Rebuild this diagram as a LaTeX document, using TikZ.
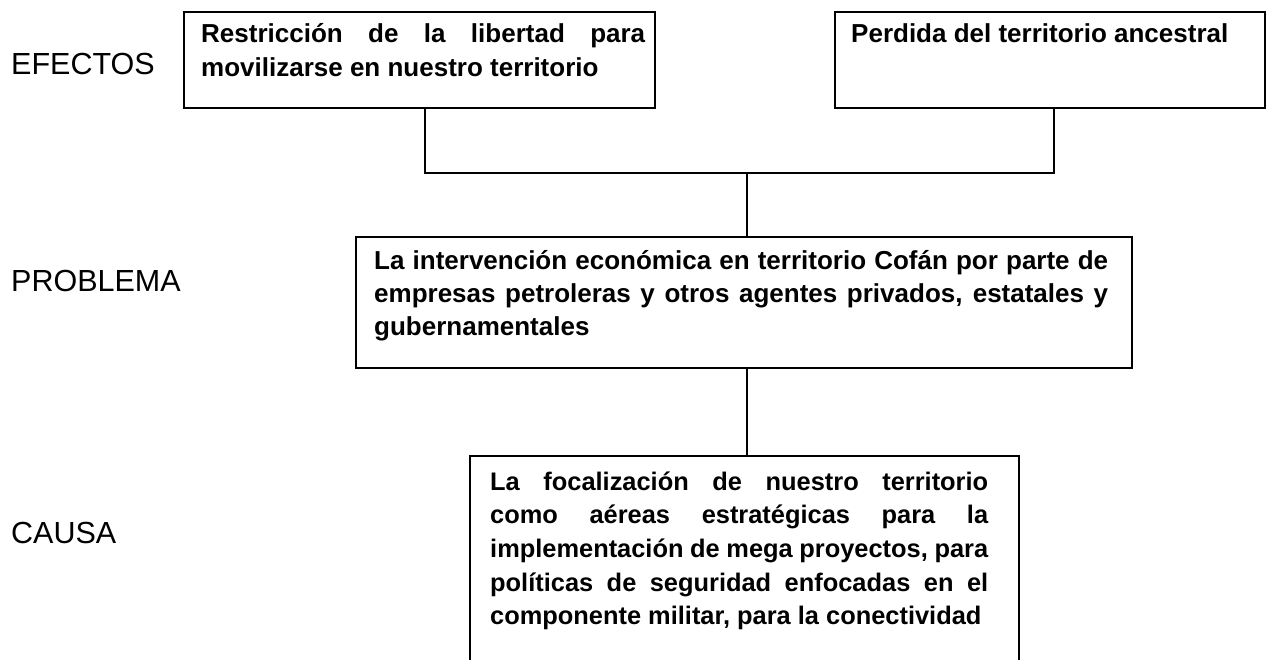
\documentclass[tikz,border=0pt]{standalone}
\usepackage{fontspec}
\setmainfont{Liberation Sans}
\begin{document}
\begin{tikzpicture}[x=1pt,y=-1pt,
  boxstyle/.style={draw=black, line width=1.6pt, rectangle, inner sep=0pt, anchor=north west},
  boxtext/.style={anchor=base west, inner sep=0pt, align=justify, font=\bfseries\fontsize{26}{34}\selectfont},
  rowlabel/.style={anchor=base west, inner sep=0pt, font=\fontsize{30.5}{36}\selectfont},
  conn/.style={line width=1.3pt}]
\clip (0,0) rectangle (1269,660);
\fill[white] (0,0) rectangle (1269,660);
% boxes
\node[boxstyle, minimum width=471pt, minimum height=96pt] (b1) at (183,11) {};
\node[boxstyle, minimum width=430pt, minimum height=96pt] (b2) at (834,11) {};
\node[boxstyle, minimum width=776pt, minimum height=131pt] (b3) at (355,236) {};
\node[boxstyle, minimum width=549pt, minimum height=300pt] (b4) at (469,455) {};
% texts
\node[boxtext, text width=444pt] (t1) at (201,43) {Restricción de la libertad para\linebreak movilizarse en nuestro territorio};
\node[boxtext, text width=410pt] (t2) at (851,43) {Perdida del territorio ancestral};
\node[boxtext, text width=734pt, font=\bfseries\fontsize{26}{33}\selectfont] (t3) at (374,270) {La intervención económica en territorio Cofán por parte de\linebreak empresas petroleras y otros agentes privados, estatales y\linebreak gubernamentales};
\node[boxtext, text width=498pt, font=\bfseries\fontsize{25.4}{33.7}\selectfont] (t4) at (490,490) {La focalización de nuestro territorio\linebreak como aéreas estratégicas para la\linebreak implementación de mega proyectos, para\linebreak políticas de seguridad enfocadas en el\linebreak componente militar, para la conectividad};
% row labels
\node[rowlabel] (l1) at (11,75) {EFECTOS};
\node[rowlabel] (l2) at (11,292) {PROBLEMA};
\node[rowlabel] (l3) at (11,543) {CAUSA};
% connectors
\coordinate (jl) at (425,173);
\coordinate (jr) at (1054,173);
\coordinate (jm) at (747,173);
\draw[conn] (b1.south -| jl) -- (jl) -- (jr) -- (b2.south -| jr);
\draw[conn] (jm) -- (b3.north -| jm);
\draw[conn] (b3.south -| jm) -- (b4.north -| jm);
\end{tikzpicture}
\end{document}
